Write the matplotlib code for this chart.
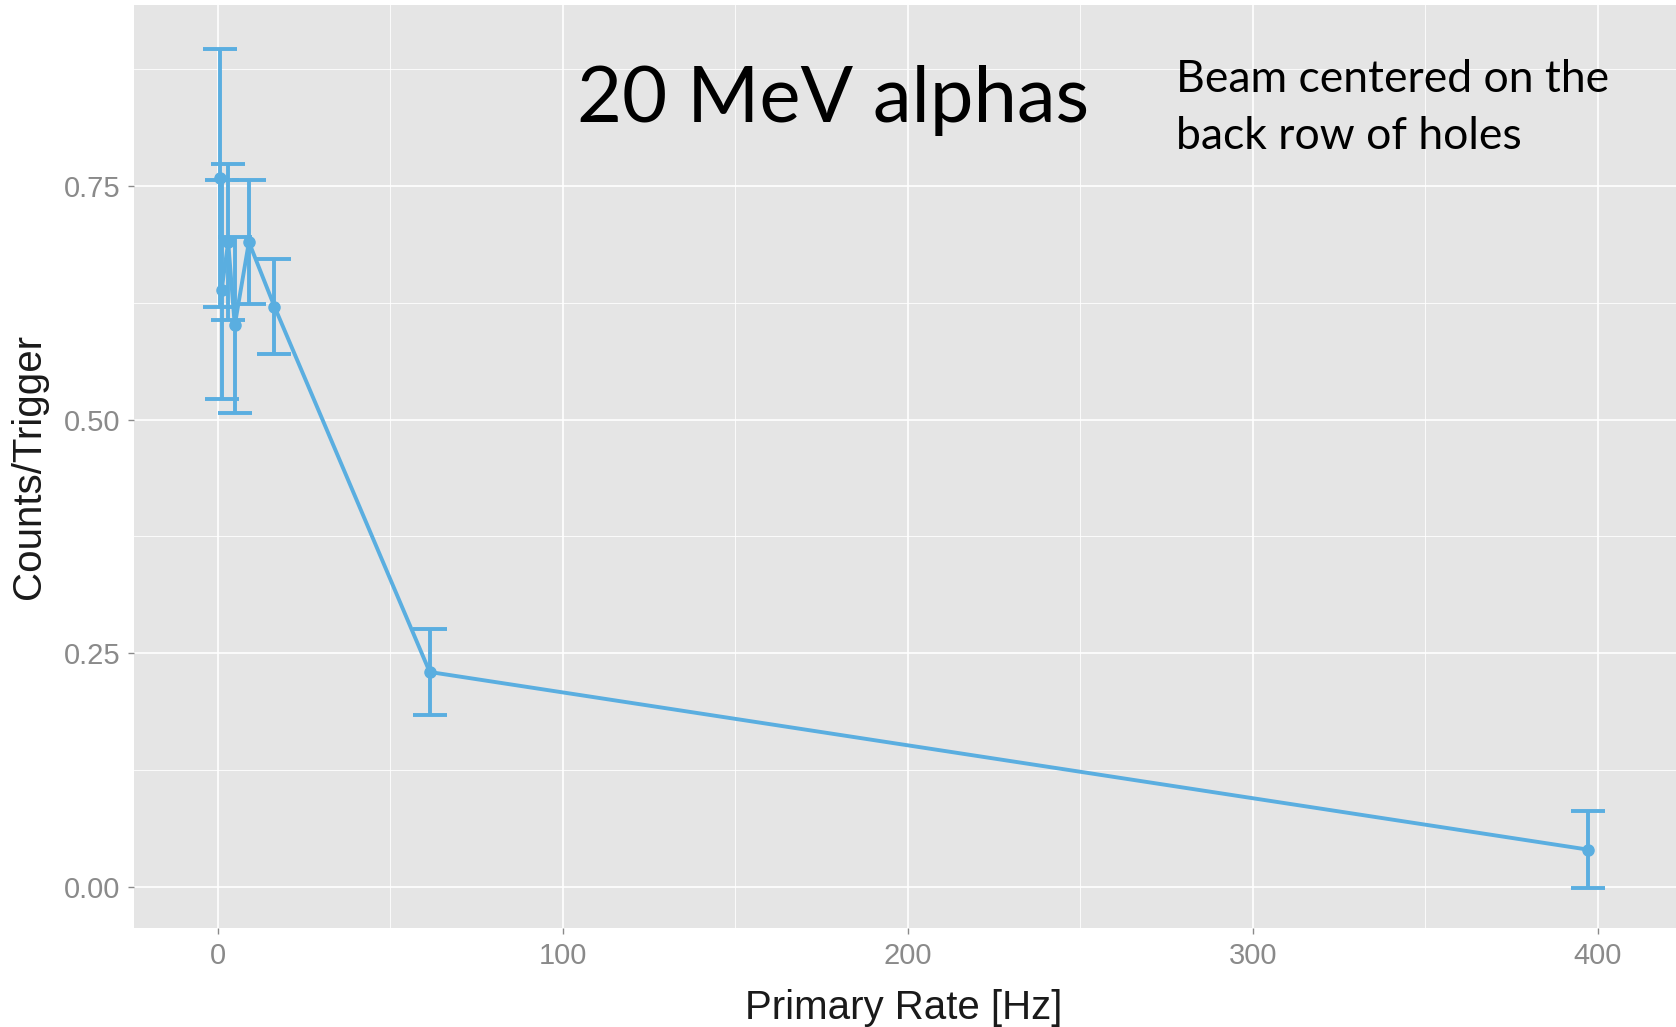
import numpy as np
import matplotlib.pyplot as plt
from matplotlib.ticker import MultipleLocator

# ------------------------------
# data: counts per trigger vs primary rate
# ------------------------------
rate = [0.6, 1.1, 3.0, 4.9, 9.0, 16.4, 61.4, 397.0]
counts = [0.758, 0.639, 0.690, 0.601, 0.690, 0.621, 0.230, 0.040]
err = [0.138, 0.117, 0.083, 0.094, 0.066, 0.051, 0.046, 0.041]

x_ticks = [0, 100, 200, 300, 400]
y_ticks = [0.00, 0.25, 0.50, 0.75]
y_tick_labels = ["0.00", "0.25", "0.50", "0.75"]

LINE_COLOR = "#5AAEE0"
PANEL = "#E5E5E5"
TICK_GREY = "#8A8A8A"

plt.rcParams['font.family'] = ['Liberation Sans', 'DejaVu Sans']

fig = plt.figure(figsize=(16.76, 10.27), dpi=100)
fig.patch.set_facecolor("white")

W, H = 1676, 1027
left, right, top, bottom = 134, 1676, 5, 928
ax = fig.add_axes([left / W, 1 - bottom / H, (right - left) / W, (bottom - top) / H])
ax.set_facecolor(PANEL)

# ggplot-style grid
ax.set_xlim(-24.3, 422.6)
ax.set_ylim(-0.0439, 0.9436)
ax.set_xticks(x_ticks)
ax.set_yticks(y_ticks)
ax.set_yticklabels(y_tick_labels)
ax.xaxis.set_minor_locator(MultipleLocator(50))
ax.yaxis.set_minor_locator(MultipleLocator(0.125))
ax.grid(True, which="major", color="white", linewidth=1.2)
ax.grid(True, which="minor", color="white", linewidth=0.6)
ax.set_axisbelow(True)
for s in ax.spines.values():
    s.set_visible(False)

ax.tick_params(which="major", length=4, width=1, color=TICK_GREY,
               labelcolor=TICK_GREY, labelsize=21, pad=6)
ax.tick_params(which="minor", length=0)

# line + points + error bars
ax.plot(rate, counts, color=LINE_COLOR, linewidth=2.8, zorder=3)
ax.errorbar(rate, counts, yerr=err, fmt="o", color=LINE_COLOR,
            markersize=8, elinewidth=2.8, capsize=12, capthick=2.8, zorder=4)

ax.set_xlabel("Primary Rate [Hz]", fontsize=29, color="#1a1a1a")
ax.set_ylabel("Counts/Trigger", fontsize=29, color="#1a1a1a")
ax.xaxis.set_label_coords(0.499, -0.066)
ax.yaxis.set_label_coords(-0.056, 0.5)

# annotations
ax.text((577 - left) / (right - left), 1 - (122 - top) / (bottom - top),
        "20 MeV alphas", transform=ax.transAxes, fontsize=56,
        family=["Lato", "DejaVu Sans"], va="baseline", ha="left", color="black")
ax.text((1176 - left) / (right - left), 1 - (92 - top) / (bottom - top),
        "Beam centered on the", transform=ax.transAxes, fontsize=32,
        family=["Lato", "DejaVu Sans"], va="baseline", ha="left", color="black")
ax.text((1176 - left) / (right - left), 1 - (149 - top) / (bottom - top),
        "back row of holes", transform=ax.transAxes, fontsize=32,
        family=["Lato", "DejaVu Sans"], va="baseline", ha="left", color="black")

fig.savefig("out.png", dpi=100)
